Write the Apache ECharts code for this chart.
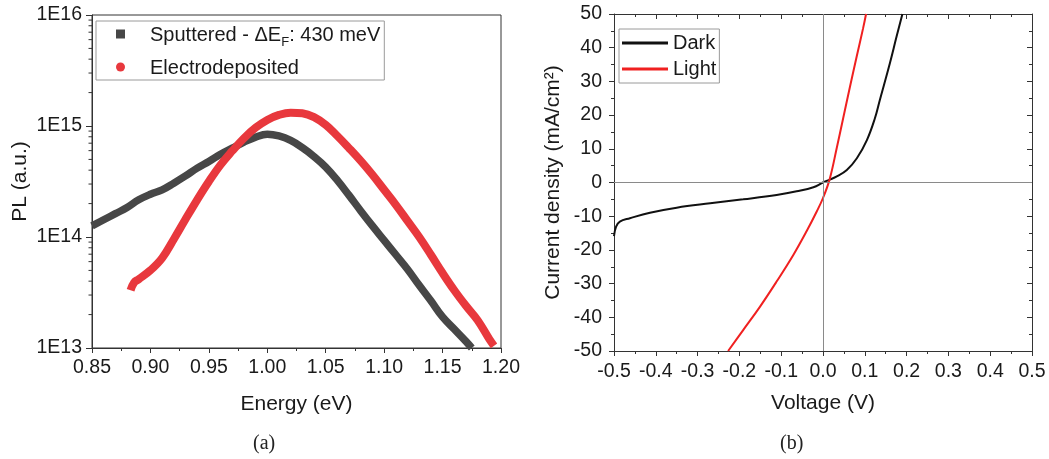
<!DOCTYPE html>
<html>
<head>
<meta charset="utf-8">
<script src="https://cdn.jsdelivr.net/npm/echarts@6/dist/echarts.min.js"></script>
<style>html,body{margin:0;padding:0;background:#fff}#c{width:1049px;height:459px}</style>
</head>
<body>
<div id="c"></div>
<script>
// ---- Panel (a): PL spectra ----
const sputEnergy = [0.850, 0.860, 0.870, 0.880, 0.890, 0.900, 0.910, 0.920, 0.930, 0.940, 0.950, 0.960, 0.970, 0.980, 0.990, 1.000, 1.010, 1.020, 1.030, 1.040, 1.050, 1.060, 1.070, 1.080, 1.090, 1.100, 1.110, 1.120, 1.130, 1.140, 1.150, 1.160, 1.170, 1.175];
const sputPL = [1.259e14, 1.429e14, 1.622e14, 1.841e14, 2.163e14, 2.427e14, 2.661e14, 3.055e14, 3.548e14, 4.169e14, 4.786e14, 5.559e14, 6.310e14, 7.161e14, 7.943e14, 8.414e14, 8.128e14, 7.413e14, 6.383e14, 5.309e14, 4.266e14, 3.236e14, 2.371e14, 1.718e14, 1.259e14, 9.333e13, 6.918e13, 5.129e13, 3.673e13, 2.661e13, 1.905e13, 1.479e13, 1.148e13, 1.0e13];
const elecEnergy = [0.883, 0.886, 0.890, 0.900, 0.910, 0.920, 0.930, 0.940, 0.950, 0.960, 0.970, 0.980, 0.990, 1.000, 1.010, 1.020, 1.030, 1.040, 1.050, 1.060, 1.070, 1.080, 1.090, 1.100, 1.110, 1.120, 1.130, 1.140, 1.150, 1.160, 1.170, 1.180, 1.190, 1.194];
const elecPL = [3.311e13, 3.890e13, 4.169e13, 5.012e13, 6.457e13, 9.550e13, 1.445e14, 2.163e14, 3.162e14, 4.467e14, 5.957e14, 7.762e14, 9.661e14, 1.135e15, 1.259e15, 1.318e15, 1.303e15, 1.202e15, 1.023e15, 8.128e14, 6.310e14, 4.842e14, 3.631e14, 2.661e14, 1.950e14, 1.396e14, 1.0e14, 6.918e13, 4.732e13, 3.311e13, 2.399e13, 1.778e13, 1.202e13, 1.047e13];
const plYTickLabels = ['1E13', '1E14', '1E15', '1E16'];
const logDecades = [1e13, 1e14, 1e15];
const logMinorMultipliers = [2, 3, 4, 5, 6, 7, 8, 9];

// ---- Panel (b): J-V curves ----
const darkV = [-0.5, -0.495, -0.486, -0.462, -0.414, -0.35, -0.27, -0.191, -0.111, -0.063, -0.023, 0.0, 0.015, 0.033, 0.057, 0.081, 0.105, 0.124, 0.136, 0.16, 0.176, 0.19];
const darkJ = [-15.9, -13.1, -11.6, -10.6, -8.95, -7.47, -6.18, -5.0, -3.7, -2.6, -1.4, 0.0, 0.8, 1.8, 3.7, 7.2, 12.6, 19.0, 24.5, 35.4, 43.3, 50];
const lightV = [-0.227, -0.191, -0.151, -0.111, -0.071, -0.039, -0.015, 0.0, 0.016, 0.033, 0.048, 0.064, 0.081, 0.096, 0.103];
const lightJ = [-50, -43.8, -36.9, -29.4, -21.5, -14.4, -8.6, -4.6, 1.0, 10.3, 18.9, 28.1, 37.6, 45.8, 50];

const FONT = 'Liberation Sans, Arial, sans-serif';
const TXT = '#1a1a1a';
const AX = '#333';

const zip = (a, b) => a.map((v, i) => [v, b[i]]);
const minorTicks = [];
logDecades.forEach(d => logMinorMultipliers.forEach(m => minorTicks.push([0.85, d * m])));

const chart = echarts.init(document.getElementById('c'), null, {renderer: 'canvas'});

const axisLabelBase = {color: TXT, fontSize: 19.5, fontFamily: FONT};
const nameBase = {color: TXT, fontSize: 21, fontFamily: FONT};
const legendT = {fontSize: 20, lineHeight: 22, color: TXT, fontFamily: FONT, verticalAlign: 'bottom'};

chart.setOption({
  animation: false,
  backgroundColor: '#fff',
  textStyle: {fontFamily: FONT},
  grid: [
    {left: 92, top: 15, width: 409, height: 333, show: true, borderColor: AX, borderWidth: 1, backgroundColor: 'transparent', outerBoundsMode: 'none'},
    {left: 614, top: 14, width: 418, height: 337, show: false, outerBoundsMode: 'none'}
  ],
  xAxis: [
    {
      gridIndex: 0, type: 'value', min: 0.85, max: 1.2, interval: 0.05,
      name: 'Energy (eV)', nameLocation: 'middle', nameGap: 46, nameTextStyle: nameBase,
      axisLine: {show: true, lineStyle: {color: AX, width: 1}},
      axisTick: {show: true, length: 5, lineStyle: {color: AX}},
      minorTick: {show: true, splitNumber: 2, length: 3, lineStyle: {color: AX}},
      axisLabel: Object.assign({margin: 10, formatter: v => v.toFixed(2)}, axisLabelBase),
      splitLine: {show: false}
    },
    {
      gridIndex: 1, type: 'value', min: -0.5, max: 0.5, interval: 0.1,
      name: 'Voltage (V)', nameLocation: 'middle', nameGap: 42, nameTextStyle: nameBase,
      axisLine: {show: true, onZero: false, lineStyle: {color: AX, width: 1}},
      axisTick: {show: true, length: 5, lineStyle: {color: AX}},
      minorTick: {show: true, splitNumber: 2, length: 3, lineStyle: {color: AX}},
      axisLabel: Object.assign({margin: 11, formatter: v => v.toFixed(1)}, axisLabelBase),
      splitLine: {show: false}
    },
    {
      gridIndex: 1, type: 'value', min: -0.5, max: 0.5, interval: 0.1, position: 'top',
      axisLine: {show: true, onZero: false, lineStyle: {color: AX, width: 1}},
      axisTick: {show: true, inside: true, length: 5, lineStyle: {color: AX}},
      minorTick: {show: true, splitNumber: 2, length: 3, lineStyle: {color: AX}},
      axisLabel: {show: false}, splitLine: {show: false}
    }
  ],
  yAxis: [
    {
      gridIndex: 0, type: 'log', logBase: 10, min: 1e13, max: 1e16,
      name: 'PL (a.u.)', nameLocation: 'middle', nameGap: 61, nameTextStyle: nameBase,
      axisLine: {show: true, lineStyle: {color: AX, width: 1}},
      axisTick: {show: true, length: 6, lineStyle: {color: AX}},
      axisLabel: Object.assign({margin: 10, formatter: v => plYTickLabels[Math.round(Math.log10(v)) - 13]}, axisLabelBase),
      splitLine: {show: false}
    },
    {
      gridIndex: 1, type: 'value', min: -50, max: 50, interval: 10,
      name: 'Current density (mA/cm²)', nameLocation: 'middle', nameGap: 50, nameTextStyle: nameBase,
      axisLine: {show: true, onZero: false, lineStyle: {color: AX, width: 1}},
      axisTick: {show: true, length: 5, lineStyle: {color: AX}},
      minorTick: {show: true, splitNumber: 2, length: 3, lineStyle: {color: AX}},
      axisLabel: Object.assign({margin: 12}, axisLabelBase),
      splitLine: {show: false}
    },
    {
      gridIndex: 1, type: 'value', min: -50, max: 50, interval: 10, position: 'right',
      axisLine: {show: true, onZero: false, lineStyle: {color: AX, width: 1}},
      axisTick: {show: true, inside: true, length: 5, lineStyle: {color: AX}},
      minorTick: {show: true, splitNumber: 2, length: 3, lineStyle: {color: AX}},
      axisLabel: {show: false}, splitLine: {show: false}
    }
  ],
  legend: [
    {
      orient: 'vertical', left: 96, top: 21, padding: [4, 4, 2, 20], itemGap: 9,
      itemWidth: 9, itemHeight: 9, borderColor: '#9a9a9a', borderWidth: 1,
      data: [{name: 'Sputtered', icon: 'rect'}, {name: 'Electrodeposited', icon: 'circle'}],
      formatter: n => n === 'Sputtered' ? '{p|Sputtered - ΔE}{s|F}{t|: 430 meV}' : '{p|Electrodeposited}',
      textStyle: {
        color: TXT, fontFamily: FONT, fontSize: 20,
        rich: {
          t: legendT,
          p: Object.assign({}, legendT, {padding: [0, 0, 0, 20]}),
          s: {fontSize: 13, lineHeight: 13, color: TXT, fontFamily: FONT, verticalAlign: 'bottom', padding: [0, 0, -4, 0]}
        }
      }
    },
    {
      orient: 'vertical', left: 619, top: 29, padding: [4, 3, 4, 3], itemGap: 6,
      itemWidth: 46, itemHeight: 3, borderColor: '#9a9a9a', borderWidth: 1,
      data: [{name: 'Dark', icon: 'rect'}, {name: 'Light', icon: 'rect'}],
      textStyle: {color: TXT, fontFamily: FONT, fontSize: 20, lineHeight: 20}
    }
  ],
  graphic: [
    {type: 'text', left: 253, top: 434, style: {text: '(a)', font: '20px "Liberation Serif", serif', fill: '#222'}},
    {type: 'text', left: 780, top: 434, style: {text: '(b)', font: '20px "Liberation Serif", serif', fill: '#222'}}
  ],
  series: [
    {
      type: 'custom', xAxisIndex: 0, yAxisIndex: 0, clip: false, silent: true,
      data: minorTicks,
      renderItem: (params, api) => {
        const p = api.coord([api.value(0), api.value(1)]);
        return {type: 'line', shape: {x1: p[0] - 3.5, y1: p[1], x2: p[0], y2: p[1]}, style: {stroke: AX, lineWidth: 1}};
      }
    },
    {
      name: 'Sputtered', type: 'line', xAxisIndex: 0, yAxisIndex: 0, smooth: 0.4,
      showSymbol: false, symbol: 'rect', data: zip(sputEnergy, sputPL),
      lineStyle: {width: 7.5, color: '#474747'}, itemStyle: {color: '#474747'}, z: 3
    },
    {
      name: 'Electrodeposited', type: 'line', xAxisIndex: 0, yAxisIndex: 0, smooth: 0.4,
      showSymbol: false, symbol: 'circle', data: zip(elecEnergy, elecPL),
      lineStyle: {width: 8, color: '#e8383d'}, itemStyle: {color: '#e8383d'}, z: 4
    },
    {
      name: 'Dark', type: 'line', xAxisIndex: 1, yAxisIndex: 1, smooth: 0.4,
      showSymbol: false, symbol: 'none', data: zip(darkV, darkJ),
      lineStyle: {width: 2, color: '#111'}, itemStyle: {color: '#111'}, z: 3,
      markLine: {
        silent: true, symbol: 'none', label: {show: false},
        lineStyle: {color: '#8a8a8a', width: 1, type: 'solid'},
        data: [{yAxis: 0}, {xAxis: 0}]
      }
    },
    {
      name: 'Light', type: 'line', xAxisIndex: 1, yAxisIndex: 1, smooth: 0.4,
      showSymbol: false, symbol: 'none', data: zip(lightV, lightJ),
      lineStyle: {width: 2, color: '#f02020'}, itemStyle: {color: '#f02020'}, z: 4
    }
  ]
});
</script>
</body>
</html>
